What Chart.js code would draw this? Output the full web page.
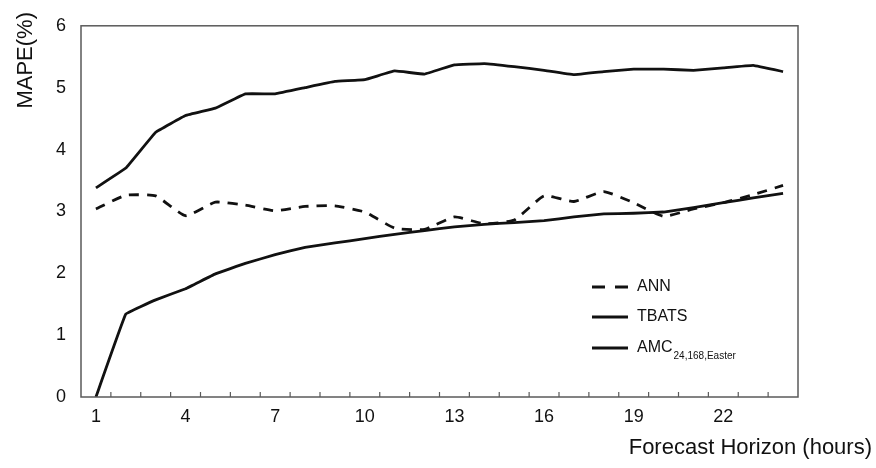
<!DOCTYPE html>
<html>
<head>
<meta charset="utf-8">
<script src="https://cdn.jsdelivr.net/npm/chart.js@4.4.0/dist/chart.umd.min.js"></script>
<style>
  html, body { margin: 0; padding: 0; background: #fff; }
  #wrap { width: 876px; height: 468px; }
</style>
</head>
<body>
<div id="wrap"><canvas id="mapeChart"></canvas></div>
<script>
// Forecast horizon (hours) and MAPE values
const horizons = ['1','2','3','4','5','6','7','8','9','10','11','12',
                  '13','14','15','16','17','18','19','20','21','22','23','24'];
const annMape = [3.04, 3.26, 3.25, 2.93, 3.15, 3.10, 3.01, 3.08, 3.09, 2.99, 2.73, 2.71,
                 2.91, 2.80, 2.86, 3.25, 3.16, 3.32, 3.14, 2.92, 3.04, 3.14, 3.27, 3.42];
const tbatsMape = [3.38, 3.70, 4.28, 4.55, 4.67, 4.90, 4.90, 5.00, 5.10, 5.13, 5.27, 5.22,
                   5.37, 5.39, 5.34, 5.28, 5.21, 5.26, 5.30, 5.30, 5.28, 5.32, 5.36, 5.26];
const amcMape = [0.00, 1.34, 1.57, 1.75, 1.99, 2.16, 2.30, 2.42, 2.49, 2.56, 2.63, 2.69,
                 2.75, 2.79, 2.82, 2.85, 2.91, 2.96, 2.97, 2.99, 3.06, 3.14, 3.22, 3.29];
const yTicks = [0, 1, 2, 3, 4, 5, 6];

const FONT = "'Liberation Sans', Arial, sans-serif";
const INK = '#111';

// frame, inward x ticks, axis titles and legend
const decorations = {
    id: 'decorations',
    afterDraw(chart) {
        const ctx = chart.ctx;
        const area = chart.chartArea;
        const x = chart.scales.x;
        ctx.save();

        // plot frame
        ctx.strokeStyle = '#5a5a5a';
        ctx.lineWidth = 1.5;
        ctx.strokeRect(area.left, area.top, area.right - area.left, area.bottom - area.top);

        // small ticks between categories, pointing up into the plot
        ctx.lineWidth = 1.2;
        for (let i = 0; i < horizons.length - 1; i++) {
            const px = (x.getPixelForValue(i) + x.getPixelForValue(i + 1)) / 2;
            ctx.beginPath();
            ctx.moveTo(px, area.bottom);
            ctx.lineTo(px, area.bottom - 5);
            ctx.stroke();
        }

        // axis titles
        ctx.fillStyle = INK;
        ctx.font = '22px ' + FONT;
        ctx.textAlign = 'right';
        ctx.textBaseline = 'middle';
        ctx.fillText('Forecast Horizon (hours)', 872, 448);

        ctx.save();
        ctx.translate(26, 12);
        ctx.rotate(-Math.PI / 2);
        ctx.textAlign = 'right';
        ctx.fillText('MAPE(%)', 0, 0);
        ctx.restore();

        // legend
        const lx = area.right - 206;
        const rows = [area.bottom - 110, area.bottom - 80, area.bottom - 49];
        chart.data.datasets.forEach((ds, i) => {
            const y = rows[i];
            ctx.strokeStyle = ds.borderColor;
            ctx.lineWidth = 3;
            ctx.setLineDash(ds.borderDash ? [13, 10] : []);
            ctx.beginPath();
            ctx.moveTo(lx, y);
            ctx.lineTo(lx + 36, y);
            ctx.stroke();
            ctx.setLineDash([]);
            ctx.fillStyle = INK;
            ctx.textAlign = 'left';
            ctx.font = '16px ' + FONT;
            ctx.fillText(ds.label, lx + 45, y);
            if (ds.sub) {
                const w = ctx.measureText(ds.label).width;
                ctx.font = '10px ' + FONT;
                ctx.fillText(ds.sub, lx + 46 + w, y + 8);
            }
        });
        ctx.restore();
    }
};

new Chart(document.getElementById('mapeChart'), {
    type: 'line',
    data: {
        labels: horizons,
        datasets: [
            { label: 'ANN', data: annMape, borderColor: INK, borderWidth: 2.8,
              borderDash: [10, 8], pointRadius: 0, tension: 0.15 },
            { label: 'TBATS', data: tbatsMape, borderColor: INK, borderWidth: 2.8,
              pointRadius: 0, tension: 0.05 },
            { label: 'AMC', sub: '24,168,Easter', data: amcMape, borderColor: INK, borderWidth: 2.8,
              pointRadius: 0, tension: 0.05 }
        ]
    },
    options: {
        responsive: true,
        maintainAspectRatio: false,
        animation: false,
        layout: { padding: { top: 14, right: 78, left: 0, bottom: 0 } },
        plugins: { legend: { display: false }, tooltip: { enabled: false } },
        scales: {
            x: {
                offset: true,
                grid: { display: false, drawTicks: false },
                border: { display: false },
                ticks: {
                    autoSkip: false,
                    maxRotation: 0,
                    padding: 9,
                    color: INK,
                    font: { family: FONT, size: 18 },
                    callback: (v, i) => (i % 3 === 0 ? horizons[i] : '')
                },
                afterFit: (s) => { s.height = 71; }
            },
            y: {
                min: 0,
                max: 6,
                afterBuildTicks: (s) => { s.ticks = yTicks.map(v => ({ value: v })); },
                grid: { display: false, drawTicks: false },
                border: { display: false },
                ticks: {
                    padding: 15,
                    color: INK,
                    font: { family: FONT, size: 18 }
                },
                afterFit: (s) => { s.width = 81; }
            }
        }
    },
    plugins: [decorations]
});
</script>
</body>
</html>
